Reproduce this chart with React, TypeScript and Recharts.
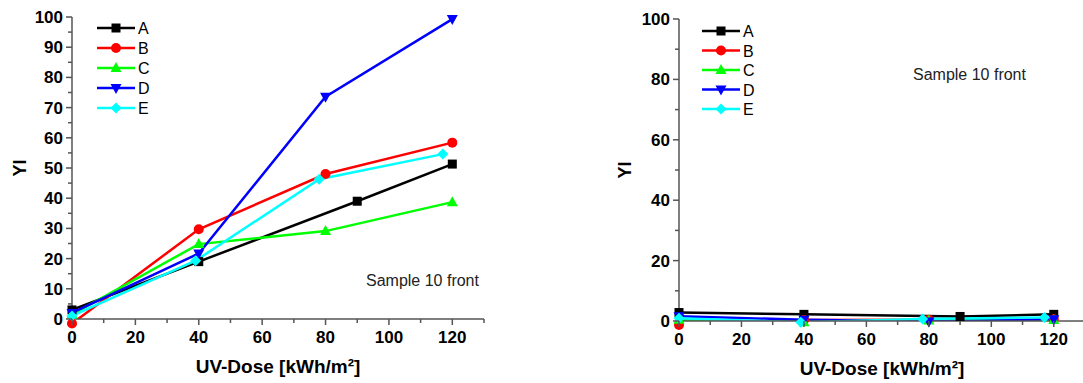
import React from 'react';
import { LineChart, Line, XAxis, YAxis, Legend } from 'recharts';

const seriesNames = ['A', 'B', 'C', 'D', 'E'];
const seriesColors = ['#000000', '#ff0000', '#00ff00', '#0000ff', '#00ffff'];

// UV dose per series (kWh/m²)
const doseA = [0, 40, 90, 120];
const doseB = [0, 40, 80, 120];
const doseC = [0, 40, 80, 120];
const doseD = [0, 40, 80, 120];
const doseE = [0, 39, 78, 117];

// left panel YI values
const leftA = [3, 19, 39, 51.3];
const leftB = [-1.5, 29.7, 48, 58.4];
const leftC = [1.5, 24.8, 29.1, 38.7];
const leftD = [2, 21.7, 73.6, 99.3];
const leftE = [1, 19.3, 46.3, 54.6];

// right panel YI values
const rightA = [2.8, 2.2, 1.5, 2.2];
const rightB = [-1.3, 0.3, 0.4, 0.6];
const rightC = [0.4, -0.4, 0.2, 0.3];
const rightD = [1.6, 0.4, -0.2, 0.6];
const rightE = [0.9, -0.4, 0.7, 1.2];

const xTicks = [0, 10, 20, 30, 40, 50, 60, 70, 80, 90, 100, 110, 120, 130];
const leftYTicks = [0, 5, 10, 15, 20, 25, 30, 35, 40, 45, 50, 55, 60, 65, 70, 75, 80, 85, 90, 95, 100];
const rightYTicks = [0, 10, 20, 30, 40, 50, 60, 70, 80, 90, 100];

const doses = [doseA, doseB, doseC, doseD, doseE];
const leftValues = [leftA, leftB, leftC, leftD, leftE];
const rightValues = [rightA, rightB, rightC, rightD, rightE];

const toPoints = (xs: number[], ys: number[]) => xs.map((x, i) => ({ x, y: ys[i] }));

const FONT = 'Arial, "Liberation Sans", sans-serif';
const AXIS = '#555';

function Marker({ cx, cy, shape, color }: { cx: number; cy: number; shape: number; color: string }) {
  if (cx == null || cy == null) return null;
  switch (shape) {
    case 0:
      return <rect x={cx - 4.5} y={cy - 4.5} width={9} height={9} fill={color} />;
    case 1:
      return <circle cx={cx} cy={cy} r={5} fill={color} />;
    case 2:
      return <polygon points={`${cx},${cy - 6} ${cx + 5.5},${cy + 4} ${cx - 5.5},${cy + 4}`} fill={color} />;
    case 3:
      return <polygon points={`${cx},${cy + 6} ${cx + 5.5},${cy - 4} ${cx - 5.5},${cy - 4}`} fill={color} />;
    default:
      return <polygon points={`${cx},${cy - 5.5} ${cx + 5.5},${cy} ${cx},${cy + 5.5} ${cx - 5.5},${cy}`} fill={color} />;
  }
}

const makeYTick = (every: number) => (props: any) => {
  const { x, y, payload } = props;
  const v = payload.value;
  const major = v % every === 0;
  return (
    <g>
      <line x1={x} x2={x - (major ? 6 : 4)} y1={y} y2={y} stroke={AXIS} strokeWidth={1.5} />
      {major && (
        <text x={x - 9} y={y + 6} textAnchor="end" fontSize={17} fontWeight="bold" fontFamily={FONT} fill="#000">
          {v}
        </text>
      )}
    </g>
  );
};

const XTick = (props: any) => {
  const { x, y, payload } = props;
  const v = payload.value;
  const major = v % 20 === 0;
  return (
    <g>
      <line x1={x} x2={x} y1={y} y2={y + (major ? 6 : 4)} stroke={AXIS} strokeWidth={1.5} />
      {major && (
        <text x={x} y={y + 24} textAnchor="middle" fontSize={17} fontWeight="bold" fontFamily={FONT} fill="#000">
          {v}
        </text>
      )}
    </g>
  );
};

const yLabel = (offset: number) => (props: any) => {
  const { viewBox } = props;
  const cx = viewBox.x + offset;
  const cy = viewBox.y + viewBox.height / 2;
  return (
    <text x={cx} y={cy} transform={`rotate(-90 ${cx} ${cy})`} dy={6} textAnchor="middle" fontSize={18} fontWeight="bold" fontFamily={FONT}>
      YI
    </text>
  );
};

const xLabel = (props: any) => {
  const { viewBox } = props;
  return (
    <text x={viewBox.x + viewBox.width / 2} y={viewBox.y + 54} textAnchor="middle" fontSize={19} fontWeight="bold" fontFamily={FONT}>
      UV-Dose [kWh/m²]
    </text>
  );
};

const LegendBox = ({ gap }: { gap: number }) => (
  <svg width={70} height={110}>
    {seriesNames.map((n, i) => {
      const y = 10 + i * gap;
      return (
        <g key={n}>
          <line x1={2} x2={40} y1={y} y2={y} stroke={seriesColors[i]} strokeWidth={2.5} />
          <Marker cx={21} cy={y} shape={i} color={seriesColors[i]} />
          <text x={43} y={y + 6} fontSize={16} fontFamily={FONT} fill="#000">
            {n}
          </text>
        </g>
      );
    })}
  </svg>
);

function Panel(props: {
  values: number[][];
  yTicks: number[];
  yEvery: number;
  yAxisWidth: number;
  top: number;
  right: number;
  xAxisHeight: number;
  labelOffset: number;
  legendLeft: number;
  legendTop: number;
  legendGap: number;
}) {
  return (
    <LineChart width={540} height={383} margin={{ top: props.top, right: props.right, bottom: 0, left: 0 }}>
      <XAxis
        type="number"
        dataKey="x"
        domain={[0, 130]}
        ticks={xTicks}
        interval={0}
        allowDataOverflow
        tickSize={0}
        tickMargin={0}
        tickLine={false}
        tick={XTick}
        axisLine={{ stroke: AXIS, strokeWidth: 1.5 }}
        height={props.xAxisHeight}
        label={xLabel}
      />
      <YAxis
        type="number"
        domain={[0, 100]}
        ticks={props.yTicks}
        interval={0}
        allowDataOverflow
        width={props.yAxisWidth}
        tickSize={0}
        tickMargin={0}
        tickLine={false}
        tick={makeYTick(props.yEvery)}
        axisLine={{ stroke: AXIS, strokeWidth: 1.5 }}
        label={yLabel(props.labelOffset)}
      />
      <Legend
        layout="vertical"
        align="center"
        verticalAlign="middle"
        wrapperStyle={{ left: props.legendLeft, top: props.legendTop, width: 70, height: 110 }}
        content={() => <LegendBox gap={props.legendGap} />}
      />
      {seriesNames.map((n, i) => (
        <Line
          key={n}
          name={n}
          type="linear"
          data={toPoints(doses[i], props.values[i])}
          dataKey="y"
          stroke={seriesColors[i]}
          strokeWidth={2.5}
          isAnimationActive={false}
          dot={(p: any) => <Marker key={`${n}-${p.index}`} cx={p.cx} cy={p.cy} shape={i} color={seriesColors[i]} />}
          activeDot={false}
        />
      ))}
    </LineChart>
  );
}

export default function App() {
  return (
    <div style={{ position: 'absolute', left: 0, top: 0, width: 1083, height: 383, overflow: 'hidden', background: '#fff', fontFamily: FONT }}>
      <style>{'svg g[clip-path]{clip-path:none !important;}'}</style>
      <div style={{ position: 'absolute', left: 0, top: 0 }}>
        <Panel
          values={leftValues}
          yTicks={leftYTicks}
          yEvery={10}
          yAxisWidth={72}
          top={17}
          right={56}
          xAxisHeight={64}
          labelOffset={20}
          legendLeft={95}
          legendTop={18}
          legendGap={20}
        />
      </div>
      <div style={{ position: 'absolute', left: 560, top: 0 }}>
        <Panel
          values={rightValues}
          yTicks={rightYTicks}
          yEvery={20}
          yAxisWidth={119}
          top={19}
          right={15}
          xAxisHeight={62}
          labelOffset={65}
          legendLeft={140}
          legendTop={21}
          legendGap={19.5}
        />
      </div>
      <div style={{ position: 'absolute', left: 366, top: 272, fontSize: 16, color: '#222' }}>Sample 10 front</div>
      <div style={{ position: 'absolute', left: 913, top: 66, fontSize: 16, color: '#222' }}>Sample 10 front</div>
    </div>
  );
}
